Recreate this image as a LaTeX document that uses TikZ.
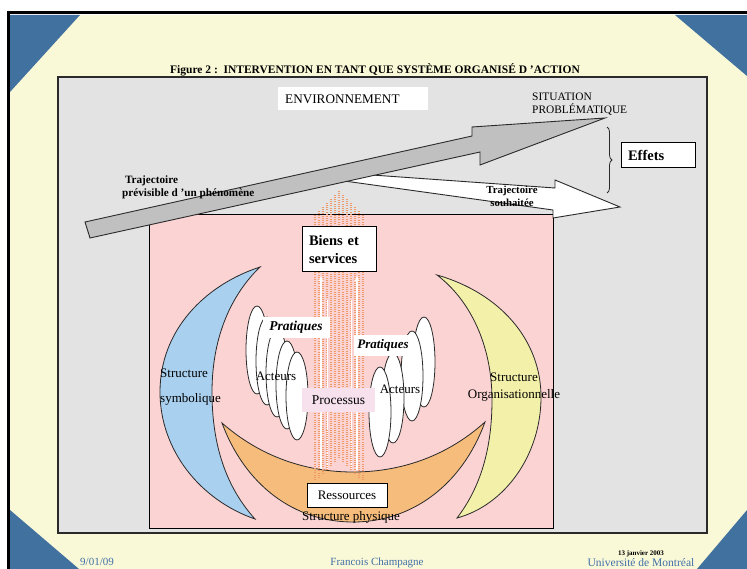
\documentclass[tikz,border=0pt]{standalone}
\usepackage{fontspec}
\setmainfont{Liberation Serif}
\usetikzlibrary{arrows.meta,decorations.pathreplacing}

\definecolor{cream}{HTML}{FAF9D7}
\definecolor{cornerblue}{HTML}{41729F}
\definecolor{panelgray}{HTML}{E3E3E3}
\definecolor{pinkbg}{HTML}{FBD3D3}
\definecolor{arrowgray}{HTML}{C0C0C0}
\definecolor{symblue}{HTML}{A9D0EF}
\definecolor{orgyellow}{HTML}{F3F1A9}
\definecolor{physorange}{HTML}{F6BC7C}
\definecolor{flowdash}{HTML}{EE9A6A}
\definecolor{footblue}{HTML}{3F6FA6}
\definecolor{procpink}{HTML}{F6E1EC}
\definecolor{edge}{HTML}{2A2A2A}

\begin{document}
\begin{tikzpicture}[x=1pt,y=-1pt,
  lbl/.style={inner sep=0pt, font=\fontsize{13}{15}\selectfont},
  boxed/.style={draw=black, line width=1pt, fill=white, inner sep=0pt},
  crescent/.style={draw=edge, line width=0.8pt},
  actor/.style={draw=edge, line width=0.8pt, fill=white},
  flowcol/.style={draw=flowdash, line width=1.3pt, dash pattern=on 1pt off 1.2pt},
  flowup/.style={draw=white, line width=1.1pt, -{Triangle[width=4pt,length=5pt]}},
]
\useasboundingbox (0,0) rectangle (747,569);
\clip (0,0) rectangle (747,569);

% slide frame
\fill[white] (0,0) rectangle (747,569);
\fill[cream] (10,15) rectangle (747,569);
\draw[black, line width=3pt] (8.5,569) -- (8.5,12.5) -- (747,12.5);
\fill[cornerblue] (10,15) -- (80,15) -- (10,92) -- cycle;
\fill[cornerblue] (675,15) -- (747,15) -- (747,76) -- cycle;
\fill[cornerblue] (10,510) -- (79,569) -- (10,569) -- cycle;
\fill[cornerblue] (747,510) -- (747,569) -- (697,569) -- cycle;

% title
\node[inner sep=0pt, font=\fontsize{11.5}{12}\selectfont\bfseries] (title) at (375,70)
  {Figure 2 :\ \ INTERVENTION EN TANT QUE SYSTÈME ORGANISÉ D 'ACTION};

% environment panel
\draw[draw=edge, line width=1.2pt, fill=panelgray] (58,77) rectangle (707,533);
\node[fill=white, minimum width=150pt, minimum height=23pt, inner sep=0pt] (env) at (353,99) {};
\node[lbl, font=\fontsize{13.2}{15}\selectfont, anchor=west] at (285,99.5) {ENVIRONNEMENT};
\node[lbl, align=left, anchor=north west, font=\fontsize{11.4}{13}\selectfont] (situ) at (532,92.5)
  {SITUATION\\PROBLÉMATIQUE};

% organised action system
\draw[draw=black, line width=1pt, fill=pinkbg] (149,215) rectangle (553,528);

% desired trajectory (white arrow)
\draw[draw=edge, line width=0.9pt, fill=white]
  (330,172) -- (555,188) -- (555,180) -- (620,207) -- (553,218) -- (553,210) -- (330,179) -- cycle;

% foreseeable trajectory (grey arrow)
\draw[draw=edge, line width=0.9pt, fill=arrowgray]
  (85,222) -- (472,136) -- (472,127) -- (605,118) -- (480,165) -- (480,152) -- (90,238) -- cycle;

\node[lbl, align=left, anchor=north west, font=\fontsize{11.2}{13}\selectfont\bfseries] (prev) at (122,176)
  {\ Trajectoire\\prévisible d 'un phénomène};
\node[lbl, align=center, font=\fontsize{10.8}{13}\selectfont\bfseries] (souh) at (512,196.5)
  {Trajectoire\\souhaitée};

% effects
\draw[draw=edge, line width=0.8pt, decorate, decoration={brace, amplitude=5pt}]
  (607,127) -- (607,193);
\node[boxed, minimum width=74pt, minimum height=25pt, text width=60pt, align=left,
  font=\fontsize{14.5}{16}\selectfont\bfseries] (effets) at (658,155.5) {Effets};

% process flow columns
\foreach \x in {315,319,...,363}{
  \pgfmathsetmacro{\d}{abs(\x-339)}
  \pgfmathsetmacro{\top}{191+\d}
  \pgfmathsetmacro{\bot}{458+min(\d,22)}
  \draw[flowcol] (\x,\bot) -- (\x,\top);
}
\draw[flowup] (321,470) -- (321,276);
\draw[flowup] (357,470) -- (357,276);
\draw[draw=white, line width=0.9pt] (327,470) -- (327,300);
\draw[draw=white, line width=0.9pt] (351,470) -- (351,300);

% symbolic structure
\draw[crescent, fill=symblue]
  (260,267) .. controls (205,285) and (160,330) .. (160,392)
  .. controls (160,450) and (200,500) .. (255,519)
  .. controls (226,487) and (212,445) .. (212,392)
  .. controls (212,342) and (228,298) .. (260,267) -- cycle;
% organisational structure
\draw[crescent, fill=orgyellow]
  (437,275) .. controls (500,293) and (541,340) .. (541,397)
  .. controls (541,455) and (505,505) .. (457,518)
  .. controls (480,488) and (492,450) .. (492,400)
  .. controls (492,345) and (470,300) .. (437,275) -- cycle;
% physical structure
\draw[crescent, fill=physorange]
  (222,423) .. controls (262,458) and (308,472) .. (353,472)
  .. controls (398,472) and (445,458) .. (485,422)
  .. controls (462,485) and (412,522) .. (353,522)
  .. controls (294,522) and (245,485) .. (222,423) -- cycle;

% flow over the physical structure
\foreach \x in {315,319,...,363}{
  \pgfmathsetmacro{\d}{abs(\x-339)}
  \pgfmathsetmacro{\bot}{458+min(\d,22)}
  \draw[flowcol] (\x,\bot) -- (\x,430);
}

% actors, left group
\foreach \cx/\cy in {257/350, 267/361, 277/373, 287/385, 297/396}{
  \draw[actor] (\cx,\cy) ellipse [x radius=11, y radius=44];
}
% actors, right group
\foreach \cx/\cy in {424/362, 412/376, 393/398, 380/412}{
  \draw[actor] (\cx,\cy) ellipse [x radius=11, y radius=45];
}

\node[fill=white, minimum width=67pt, minimum height=21pt, inner sep=0pt] (pratL) at (296,327.5)
  {\fontsize{13.5}{14}\selectfont\bfseries\itshape Pratiques};
\node[fill=white, minimum width=58pt, minimum height=21pt, inner sep=0pt] (pratR) at (383,345.5)
  {\fontsize{13}{14}\selectfont\bfseries\itshape Pratiques};
\node[lbl] (actL) at (276,376.5) {Acteurs};
\node[lbl] (actR) at (400,389) {Acteurs};

\node[fill=procpink, minimum width=73pt, minimum height=24pt, inner sep=0pt,
  font=\fontsize{13.5}{15}\selectfont] (proc) at (338.5,400) {Processus};

\node[boxed, minimum width=74pt, minimum height=45pt, text width=60pt, align=left,
  font=\fontsize{14.5}{18}\selectfont\bfseries] (biens) at (339,249.5) {Biens et\\services};
\node[boxed, minimum width=80pt, minimum height=24pt,
  font=\fontsize{13}{15}\selectfont] (ress) at (347,495) {Ressources};

\node[lbl, align=left, anchor=north west, font=\fontsize{13}{25}\selectfont] (symb) at (160,369)
  {Structure\\symbolique};
\node[lbl, align=center, font=\fontsize{13}{17}\selectfont] (orga) at (514,387)
  {Structure\\Organisationnelle};
\node[lbl] (phys) at (351,517) {Structure physique};

% footer
\node[lbl, anchor=base, text=footblue, font=\fontsize{11}{12}\selectfont] (date) at (97,565) {9/01/09};
\node[lbl, anchor=base, text=footblue, font=\fontsize{11}{12}\selectfont] (auth) at (377,565) {Francois Champagne};
\node[lbl, anchor=base, font=\fontsize{7}{8}\selectfont\bfseries] (jan) at (641,555) {13 janvier 2003};
\node[lbl, anchor=base, text=footblue, font=\fontsize{11.5}{12}\selectfont] (udem) at (641,566.5) {Université de Montréal};
\end{tikzpicture}
\end{document}
